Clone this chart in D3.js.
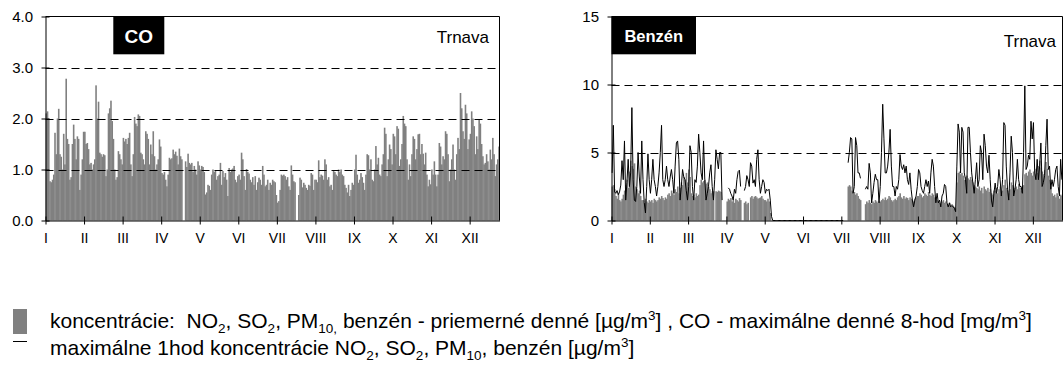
<!DOCTYPE html>
<html>
<head>
<meta charset="utf-8">
<script src="https://cdn.jsdelivr.net/npm/d3@7"></script>
<style>
  body { margin: 0; background: #fff; }
  svg { display: block; font-family: "Liberation Sans", Arial, sans-serif; }
</style>
</head>
<body>
<svg id="chart" width="1064" height="374"></svg>
<script>
/**********************************************
 *
 * data (daily values, one block per 31-day tick interval)
 *
 **********************************************/
const months = ["I", "II", "III", "IV", "V", "VI", "VII", "VIII", "IX", "X", "XI", "XII"]

// CO - max daily 8h [mg/m3]
const co01 = [2.1,2.14,2.0,0.77,0.75,0.8,0.9,1.72,1.3,2.0,2.19,1.3,1.25,1.0,1.7,1.1,2.78,1.6,1.5,0.8,0.85,1.5,1.88,1.6,1.2,1.65,1.6,0.6,0.9,1.2,1.74]
const co02 = [1.74,1.5,1.52,1.4,1.1,1.13,1.0,1.1,1.2,2.65,2.0,2.33,1.33,1.3,1.25,1.3,1.28,0.87,1.0,2.1,2.2,2.35,1.95,1.6,1.0,0.8,0.85,1.36,1.3,1.2,1.1]
const co03 = [1.62,1.55,1.6,1.5,1.62,1.72,1.1,0.87,1.3,2.03,1.9,1.85,2.08,2.05,1.33,1.3,1.2,1.1,1.75,1.7,1.6,1.1,1.49,1.3,1.75,1.26,1.0,1.1,1.2,1.59,1.45]
const co04 = [0.93,0.9,0.95,0.8,0.67,0.9,1.23,1.2,1.22,1.39,1.3,1.35,1.27,1.1,1.41,1.26,1.2,null,null,1.16,1.05,1.31,1.13,1.1,1.13,0.95,1.07,1.0,0.9,1.16,1.08]
const co05 = [1.0,1.07,1.05,0.95,0.51,0.55,0.7,0.68,0.6,0.9,1.0,0.95,0.98,0.8,0.87,0.9,1.13,0.7,0.97,0.85,0.93,0.8,0.48,1.03,0.95,1.0,1.02,1.07,0.8,0.75,0.87]
const co06 = [0.9,0.8,1.33,1.2,0.87,0.6,1.01,0.95,0.92,0.8,0.75,0.85,0.7,0.87,0.6,0.75,0.84,0.8,0.7,1.07,0.9,0.67,0.7,0.8,0.6,0.74,0.7,0.8,0.77,0.75,0.5]
const co07 = [0.35,0.38,0.6,0.9,0.88,0.9,0.87,0.8,0.85,0.67,0.6,1.08,0.9,0.77,0.75,null,null,0.5,0.84,0.8,0.65,0.74,0.7,0.64,0.6,0.7,0.68,0.93,0.9,0.6,0.8]
const co08 = [0.8,0.75,1.18,0.85,0.9,0.88,0.8,1.2,1.1,0.8,0.85,0.67,0.7,0.6,0.97,0.95,0.9,0.87,1.0,0.95,1.0,0.9,0.87,0.7,0.64,0.55,0.7,0.48,0.6,0.74,0.7]
const co09 = [1.0,1.29,0.9,0.74,0.8,0.93,0.85,0.74,0.6,0.9,1.3,1.28,1.0,1.2,0.8,0.77,1.0,1.46,1.1,1.23,0.9,0.87,1.1,1.3,1.82,1.7,0.87,1.2,1.49,1.4,1.1]
const co10 = [1.7,1.65,1.3,1.85,1.8,1.07,1.2,1.5,2.05,1.9,1.85,1.2,0.8,1.1,0.87,1.3,1.65,1.6,1.2,1.4,1.69,1.7,1.3,1.5,1.31,1.1,1.33,0.9,0.67,0.8,0.71]
const co11 = [1.0,0.9,1.16,0.9,0.67,0.9,1.52,1.45,1.1,1.26,1.2,1.75,1.7,1.3,0.77,1.0,1.2,1.49,1.0,0.8,1.3,1.62,1.4,2.5,2.2,1.75,1.6,2.27,2.1,1.4,1.59]
const co12 = [1.7,2.14,2.0,1.85,1.3,1.65,1.4,1.98,1.9,1.5,1.26,1.1,1.13,1.3,1.16,1.0,1.39,1.2,1.62,1.3,0.87,1.1,1.2,1.45]

// benzene - daily mean [ug/m3]
const bzAvg01 = [2.5,2.6,2.3,1.8,1.6,2.0,1.5,1.4,1.6,1.9,2.2,2.6,3.0,2.4,3.6,4.4,4.0,3.8,4.2,2.5,2.3,2.0,2.2,1.8,1.5,1.5,1.3,1.6,1.4,1.3,1.5]
const bzAvg02 = [1.4,1.5,1.3,1.6,1.5,1.4,1.5,1.7,1.6,1.8,1.65,1.5,1.7,1.6,1.9,2.0,1.8,2.2,2.0,1.9,2.3,2.1,2.5,2.0,2.4,2.8,2.6,3.2,3.0,3.5,2.8]
const bzAvg03 = [3.75,3.2,2.0,1.8,1.9,1.7,2.0,1.8,1.9,2.6,3.0,2.8,2.9,3.0,2.7,2.8,2.5,2.3,2.0,2.15,2.15,null,2.15,2.1,2.2,2.15,2.1,null,null,null,null]
const bzAvg04 = [1.4,1.6,1.5,1.65,1.4,1.5,1.3,1.6,1.5,1.4,1.65,1.5,null,null,1.3,1.4,1.2,1.3,null,1.7,1.8,1.6,1.75,1.8,1.7,1.6,1.65,1.7,1.8,1.6,1.5]
const bzAvg05 = [1.5,1.4,1.6,1.4,0.55,null,null,null,null,null,null,null,null,null,null,null,null,null,null,null,null,null,null,null,null,null,null,null,null,null,null]
const bzAvg06 = [null,null,null,null,null,null,null,null,null,null,null,null,null,null,null,null,null,null,null,null,null,null,null,null,null,null,null,null,null,null,null]
const bzAvg07 = [null,null,null,null,null,2.5,2.6,2.5,2.2,2.0,2.1,1.9,2.0,1.8,1.6,1.5,null,null,null,1.2,1.4,1.3,1.5,1.3,1.2,1.4,1.3,1.5,1.4,1.3,1.4]
const bzAvg08 = [1.4,1.5,1.6,1.5,1.7,1.5,1.6,1.8,1.7,1.5,1.4,1.5,1.6,1.5,1.7,1.8,2.0,1.7,1.6,1.8,1.6,1.7,1.65,1.5,1.7,1.6,1.5,1.4,1.6,1.7,1.8]
const bzAvg09 = [1.8,2.0,1.9,1.7,1.8,2.0,1.9,1.8,2.1,1.9,1.8,2.0,1.9,1.7,1.6,1.5,1.4,1.3,1.2,1.4,1.5,1.3,1.4,1.2,1.1,1.3,1.0,1.2,1.1,1.0,0.9]
const bzAvg10 = [2.8,3.5,3.6,3.4,3.5,3.3,3.0,3.2,3.3,3.1,3.0,3.2,3.0,2.8,2.6,2.5,2.4,2.3,2.5,2.2,2.4,2.0,2.5,2.3,2.2,2.4,2.1,2.3,2.0,1.9,2.2]
const bzAvg11 = [2.2,2.4,2.0,2.3,2.5,2.1,2.2,2.6,3.0,2.4,2.2,2.0,2.3,2.8,2.6,2.2,2.4,2.5,2.3,2.7,2.4,2.2,2.5,2.6,3.4,3.5,3.3,3.6,3.75,3.5,3.3]
const bzAvg12 = [3.6,3.4,3.8,3.5,4.0,4.4,3.9,3.6,3.4,3.7,4.3,3.8,3.3,3.0,2.5,2.0,1.8,1.9,1.7,2.0,1.8,1.6,1.9,1.8]

// benzene - max 1h [ug/m3]
const bzMax01 = [3.5,7.0,2.1,2.0,2.2,1.9,2.1,2.6,4.4,3.0,5.85,1.5,2.8,4.5,2.5,3.5,8.3,3.0,1.5,1.4,2.5,5.0,3.2,2.0,5.85,3.0,1.3,0.55,2.5,4.9,3.0]
const bzMax02 = [2.0,3.0,4.5,3.0,2.5,1.8,2.5,3.5,5.0,7.0,3.0,2.5,3.0,4.0,3.0,2.5,3.2,3.75,3.0,2.0,4.0,5.7,5.85,4.5,1.5,2.5,3.75,3.2,3.0,2.2,1.5]
const bzMax03 = [2.5,5.5,5.0,2.5,1.5,3.0,2.8,4.0,6.35,5.0,3.5,3.0,5.85,3.0,1.5,2.0,2.5,3.5,4.1,2.5,1.5,3.0,5.2,4.5,3.8,5.0,5.0,1.5,null,null,null]
const bzMax04 = [null,2.4,2.3,2.0,1.8,1.5,2.3,2.0,3.0,3.6,3.7,2.5,null,null,2.2,2.5,3.3,3.0,2.5,4.25,4.0,2.75,3.0,2.5,4.5,5.2,3.0,2.0,2.5,3.0,2.8]
const bzMax05 = [2.0,2.3,2.2,2.3,1.5,0.3,0,0,0,0,0,0,0,0,0,0,0,0,0,0,0,0,0,0,0,0,0,0,0,0,0]
const bzMax06 = [0,0,0,0,0,0,0,0,0,0,0,0,0,0,0,0,0,0,0,0,0,0,0,0,0,0,0,0,0,0,0]
const bzMax07 = [0,0,null,null,null,4.25,5.0,6.1,6.0,2.0,2.5,6.1,5.5,3.5,3.5,3.1,null,null,null,2.3,2.5,2.3,4.2,3.5,1.3,2.0,2.8,3.4,3.0,3.0,1.3]
const bzMax08 = [2.5,5.0,8.55,6.0,3.5,3.5,4.0,5.0,6.7,4.0,2.5,2.5,1.8,2.5,2.3,3.0,4.85,4.0,3.75,4.1,3.5,4.0,3.0,2.65,3.5,2.3,1.5,1.0,1.5,1.8,2.5]
const bzMax09 = [3.75,3.5,2.5,2.2,2.0,2.5,3.0,2.5,2.9,2.0,3.5,4.5,4.0,2.5,1.3,2.0,1.3,1.5,1.0,1.8,2.0,2.65,2.5,1.3,1.0,1.3,1.0,1.1,1.0,0.9,0.65]
const bzMax10 = [4.0,7.1,6.5,3.5,6.85,6.5,3.5,3.0,2.0,6.85,6.85,5.0,3.5,2.75,2.0,3.0,4.25,2.5,3.0,5.5,5.0,3.0,6.35,5.5,4.0,3.5,4.8,3.0,1.5,1.0,2.0]
const bzMax11 = [2.75,2.0,2.5,3.75,3.0,1.8,3.0,7.2,7.0,4.0,2.3,1.5,3.5,6.2,5.0,1.8,2.3,3.0,4.5,3.0,2.5,2.5,2.0,5.0,9.9,3.75,4.0,4.8,4.5,7.3,6.0]
const bzMax12 = [7.2,3.5,3.0,4.5,3.0,4.0,5.7,2.5,2.8,3.3,5.5,7.45,3.75,4.0,2.3,3.0,2.5,3.0,3.75,4.0,2.5,1.8,4.5,3.0]

const coTicks = [0, 1, 2, 3, 4]
const coGrid = [1, 2, 3]
const bzTicks = [0, 5, 10, 15]
const bzGrid = [5, 10]

const coDaily = [].concat(co01, co02, co03, co04, co05, co06, co07, co08, co09, co10, co11, co12)
const bzDaily = [].concat(bzAvg01, bzAvg02, bzAvg03, bzAvg04, bzAvg05, bzAvg06, bzAvg07, bzAvg08, bzAvg09, bzAvg10, bzAvg11, bzAvg12)
const bzHourMax = [].concat(bzMax01, bzMax02, bzMax03, bzMax04, bzMax05, bzMax06, bzMax07, bzMax08, bzMax09, bzMax10, bzMax11, bzMax12)

/**********************************************
 *
 * layout
 *
 **********************************************/
const svg = d3.select("#chart")
const plot = { top: 16.5, bottom: 220.5 }
const nDays = 365
const monthTicks = d3.range(0, nDays, 31)   // one tick every 31 days

function drawPanel(p) {
    const g = svg.append("g")

    const x = d3.scaleLinear().domain([0, nDays]).range([p.left, p.right])
    const y = d3.scaleLinear().domain([0, p.max]).range([plot.bottom, plot.top])
    const step = x(1) - x(0)

    // daily bars
    const bars = p.daily.map((v, i) => ({ i, v })).filter(d => d.v != null && d.v > 0)
    g.append("g")
        .selectAll("rect")
        .data(bars)
        .join("rect")
        .attr("x", d => x(d.i))
        .attr("width", step + 0.35)
        .attr("y", d => y(d.v))
        .attr("height", d => y(0) - y(d.v))
        .attr("fill", "#808080")

    // dashed grid lines
    g.append("g")
        .selectAll("line")
        .data(p.grid)
        .join("line")
        .attr("x1", p.left)
        .attr("x2", p.right)
        .attr("y1", d => Math.round(y(d)) + 0.5)
        .attr("y2", d => Math.round(y(d)) + 0.5)
        .attr("stroke", "#000")
        .attr("stroke-dasharray", "8,5")

    // max 1h line
    if (p.hourMax) {
        const line = d3.line()
            .defined(d => d.v != null)
            .x(d => x(d.i + 0.5))
            .y(d => y(d.v))
        g.append("path")
            .datum(p.hourMax.map((v, i) => ({ i, v })))
            .attr("d", line)
            .attr("fill", "none")
            .attr("stroke", "#000")
            .attr("stroke-width", 1)
    }

    // frame (top + right)
    g.append("path")
        .attr("d", `M${p.left},${plot.top}H${p.right}V${plot.bottom}`)
        .attr("fill", "none")
        .attr("stroke", "#000")

    // x axis
    const xAxis = d3.axisBottom(x)
        .tickValues(monthTicks)
        .tickFormat((d, i) => months[i])
        .tickSizeOuter(0)
    const gx = g.append("g")
        .attr("transform", `translate(0, ${plot.bottom})`)
        .call(xAxis)
        .attr("font-size", 14)
        .attr("font-family", null)
    gx.selectAll(".tick line").attr("y1", -4).attr("y2", 4)
    gx.selectAll(".tick text").attr("y", 22.5).attr("dy", null).attr("fill", "#000")

    // y axis
    const yAxis = d3.axisLeft(y)
        .tickValues(p.ticks)
        .tickFormat(p.fmt)
        .tickSizeOuter(0)
    const gy = g.append("g")
        .attr("transform", `translate(${p.left}, 0)`)
        .call(yAxis)
        .attr("font-size", 15)
        .attr("font-family", null)
    gy.selectAll(".tick line").attr("x1", -4).attr("x2", 4)
    gy.selectAll(".tick text").attr("x", -12.5).attr("fill", "#000")

    // title box
    g.append("rect")
        .attr("x", p.box[0])
        .attr("y", plot.top)
        .attr("width", p.box[1] - p.box[0])
        .attr("height", 54.3 - plot.top)
        .attr("fill", "#000")
    g.append("text")
        .attr("x", (p.box[0] + p.box[1]) / 2)
        .attr("y", p.titleY)
        .attr("text-anchor", "middle")
        .attr("font-weight", "bold")
        .attr("font-size", p.titleSize)
        .attr("fill", "#fff")
        .text(p.title)

    // station
    g.append("text")
        .attr("x", p.cityX)
        .attr("y", p.cityY)
        .attr("text-anchor", "end")
        .attr("font-size", 17)
        .text("Trnava")
}

drawPanel({
    left: 45.5, right: 499.5, max: 4,
    ticks: coTicks, grid: coGrid, fmt: d3.format(".1f"),
    daily: coDaily,
    title: "CO", box: [113.3, 164.3], titleSize: 19, titleY: 43.3,
    cityX: 489, cityY: 42.5
})

drawPanel({
    left: 611.5, right: 1062.5, max: 15,
    ticks: bzTicks, grid: bzGrid, fmt: d3.format("d"),
    daily: bzDaily, hourMax: bzHourMax,
    title: "Benzén", box: [611.5, 696], titleSize: 16.5, titleY: 41.7,
    cityX: 1056, cityY: 46.5
})

/**********************************************
 *
 * legend
 *
 **********************************************/
const legendBars = [["koncentrácie:  NO", ""], ["2", "sub"], [", SO", ""], ["2", "sub"], [", PM", ""], ["10,", "sub"],
    [" benzén - priemerné denné [µg/m", ""], ["3", "sup"], ["] , CO - maximálne denné 8-hod [mg/m", ""], ["3", "sup"], ["]", ""]]
const legendLine = [["maximálne 1hod koncentrácie NO", ""], ["2", "sub"], [", SO", ""], ["2", "sub"], [", PM", ""], ["10", "sub"],
    [", benzén [µg/m", ""], ["3", "sup"], ["]", ""]]

const legendSize = 21

function richText(parent, parts, x, y) {
    const t = parent.append("text")
        .attr("x", x)
        .attr("y", y)
        .attr("font-size", legendSize)
        .style("white-space", "pre")
    let shift = 0
    parts.forEach(([s, kind]) => {
        const target = kind === "sub" ? 5 : kind === "sup" ? -8 : 0
        t.append("tspan")
            .attr("dy", target - shift)
            .attr("font-size", kind ? 13.5 : legendSize)
            .text(s)
        shift = target
    })
    return t
}

const legend = svg.append("g")
legend.append("rect")
    .attr("x", 13).attr("y", 309)
    .attr("width", 14).attr("height", 25)
    .attr("fill", "#808080")
legend.append("line")
    .attr("x1", 13).attr("x2", 27)
    .attr("y1", 341.5).attr("y2", 341.5)
    .attr("stroke", "#000")
richText(legend, legendBars, 50, 328)
richText(legend, legendLine, 50, 355)
</script>
</body>
</html>
